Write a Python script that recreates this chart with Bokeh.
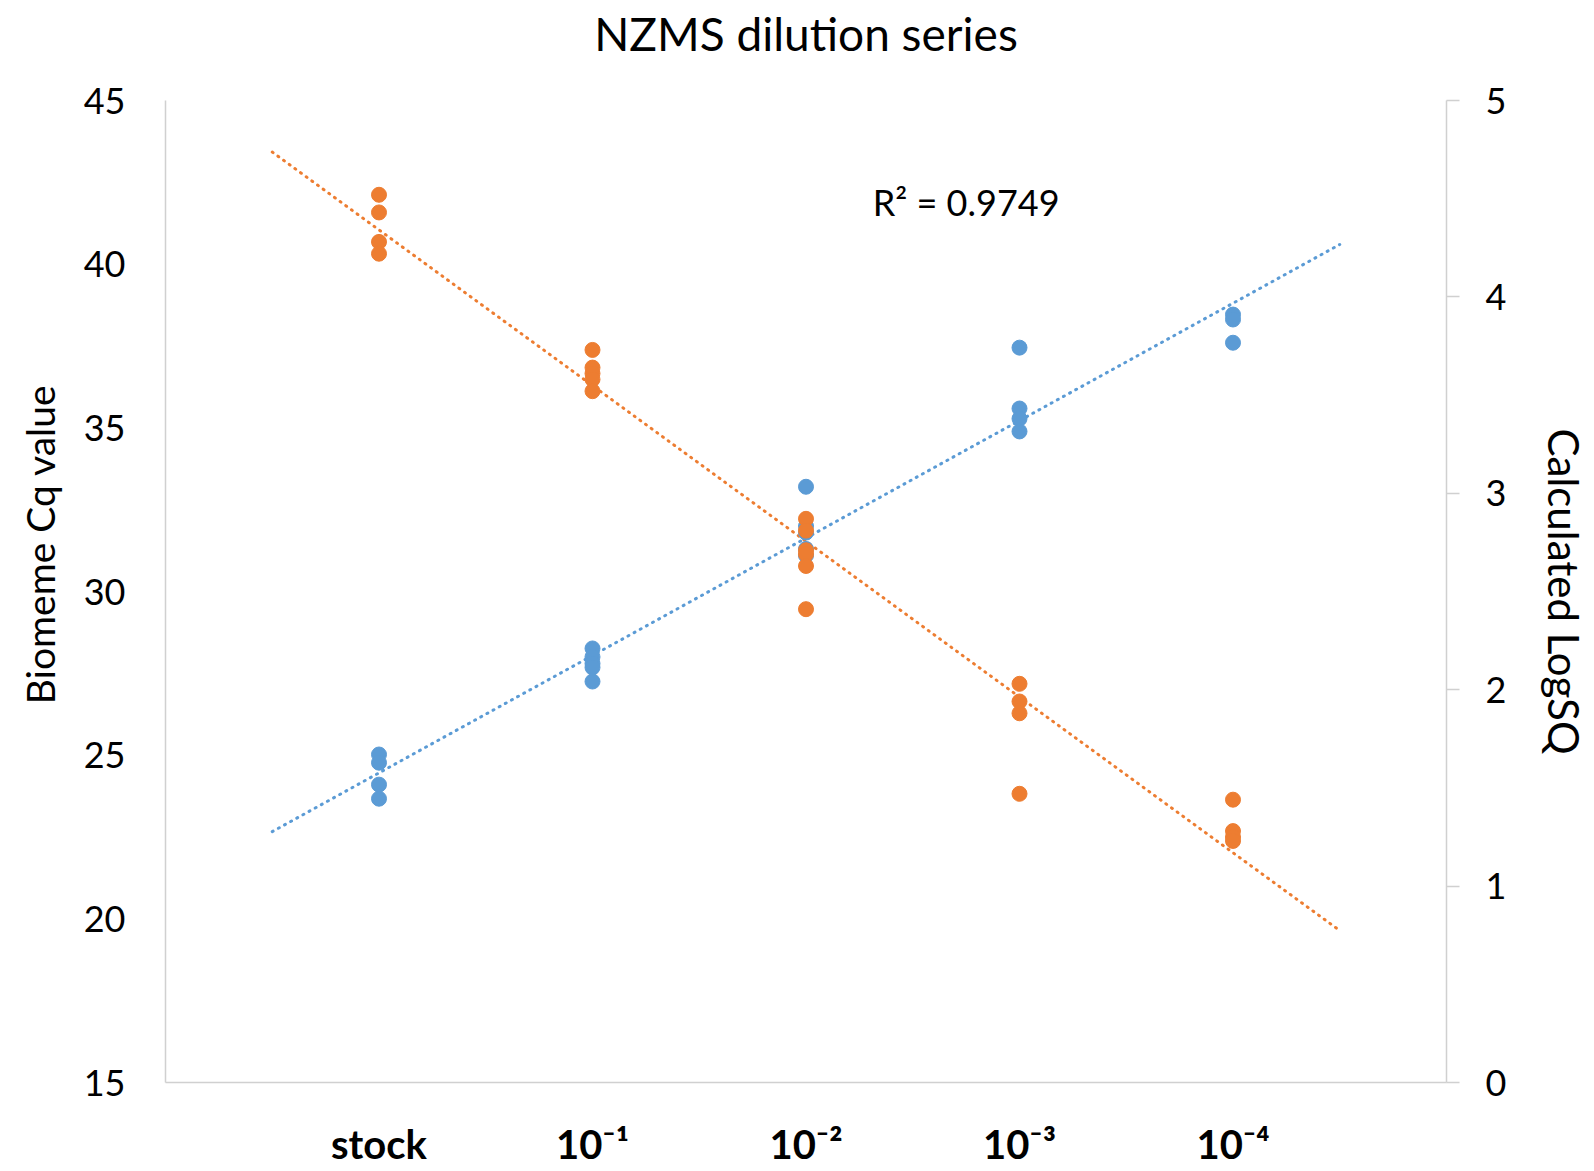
import numpy as np
from bokeh.plotting import figure
from bokeh.models import Range1d, LinearAxis, FixedTicker, Label, Title
from bokeh.embed import file_html
from bokeh.resources import INLINE

# ---- data ----
categories = ["stock", "10⁻¹", "10⁻²", "10⁻³", "10⁻⁴"]

cq_stock = [25.02, 24.77, 24.10, 23.67]
cq_d1 = [28.26, 28.00, 27.80, 27.68, 27.25]
cq_d2 = [33.20, 32.00, 31.80, 31.30, 31.10]
cq_d3 = [37.45, 35.59, 35.28, 34.89]
cq_d4 = [38.46, 38.31, 37.60]

logsq_stock = [4.52, 4.43, 4.28, 4.22]
logsq_d1 = [3.73, 3.64, 3.61, 3.58, 3.52]
logsq_d2 = [2.87, 2.81, 2.71, 2.69, 2.63, 2.41]
logsq_d3 = [2.03, 1.94, 1.88, 1.47]
logsq_d4 = [1.44, 1.28, 1.25, 1.23]

left_ticks = [15, 20, 25, 30, 35, 40, 45]
right_ticks = [0, 1, 2, 3, 4, 5]
r2_text = "R² = 0.9749"
title_text = "NZMS dilution series"
left_label = "Biomeme Cq value"
right_label = "Calculated LogSQ"

BLUE = "#5B9BD5"
ORANGE = "#ED7D31"
FONT = "Lato"
AXIS_GREY = "#D0D0D0"

cq_groups = [cq_stock, cq_d1, cq_d2, cq_d3, cq_d4]
logsq_groups = [logsq_stock, logsq_d1, logsq_d2, logsq_d3, logsq_d4]

cq_x = [i + 1 for i, g in enumerate(cq_groups) for _ in g]
cq_y = [v for g in cq_groups for v in g]
sq_x = [i + 1 for i, g in enumerate(logsq_groups) for _ in g]
sq_y = [v for g in logsq_groups for v in g]

# linear trendlines (extended 0.5 category each side)
tx = np.array([0.5, len(categories) + 0.5])
b_m, b_c = np.polyfit(cq_x, cq_y, 1)
o_m, o_c = np.polyfit(sq_x, sq_y, 1)

p = figure(width=1594, height=1171, output_backend="svg", toolbar_location=None,
           x_range=Range1d(0, len(categories) + 1), y_range=Range1d(15, 45),
           min_border_left=164, min_border_right=148, min_border_top=100,
           min_border_bottom=89)
p.extra_y_ranges = {"logsq": Range1d(0, 5)}

p.xgrid.visible = False
p.ygrid.visible = False
p.outline_line_color = None

# bottom (category) axis
xa = p.below[0]
xa.ticker = FixedTicker(ticks=list(range(1, len(categories) + 1)))
xa.major_label_overrides = {i + 1: c for i, c in enumerate(categories)}
xa.major_label_text_font = FONT
xa.major_label_text_font_size = "40px"
xa.major_label_text_font_style = "bold"
xa.major_label_text_color = "#000000"
xa.major_label_standoff = 37
xa.major_tick_out = 0
xa.major_tick_in = 0
xa.minor_tick_out = 0
xa.minor_tick_in = 0
xa.axis_line_color = AXIS_GREY
xa.axis_line_width = 1.5

# left axis
ya = p.left[0]
ya.ticker = FixedTicker(ticks=left_ticks)
ya.major_label_text_font = FONT
ya.major_label_text_font_size = "36px"
ya.major_label_text_color = "#000000"
ya.major_label_standoff = 40
ya.major_tick_out = 0
ya.major_tick_in = 0
ya.minor_tick_out = 0
ya.minor_tick_in = 0
ya.axis_line_color = AXIS_GREY
ya.axis_line_width = 1.5

# chart title, drawn as the label of an empty top axis
ta = LinearAxis(ticker=FixedTicker(ticks=[]))
ta.axis_line_color = None
ta.major_tick_out = 0
ta.major_tick_in = 0
ta.minor_tick_out = 0
ta.minor_tick_in = 0
ta.axis_label = title_text
ta.axis_label_text_font = FONT
ta.axis_label_text_font_size = "46px"
ta.axis_label_text_font_style = "normal"
ta.axis_label_text_color = "#000000"
ta.axis_label_standoff = 40
p.add_layout(ta, "above")

left_title = Title(text=left_label, align="right", offset=284,
                   vertical_align="top", standoff=32,
                   text_font=FONT, text_font_size="39px",
                   text_font_style="normal", text_color="#000000")
p.add_layout(left_title, "left")

# right axis
ra = LinearAxis(y_range_name="logsq", ticker=FixedTicker(ticks=right_ticks))
ra.major_label_text_font = FONT
ra.major_label_text_font_size = "36px"
ra.major_label_text_color = "#000000"
ra.major_label_standoff = 26
ra.major_tick_out = 13
ra.major_tick_in = 0
ra.minor_tick_out = 0
ra.minor_tick_in = 0
ra.major_tick_line_color = AXIS_GREY
ra.major_tick_line_width = 1.5
ra.axis_line_color = AXIS_GREY
ra.axis_line_width = 1.5
ra.axis_label = right_label
ra.axis_label_text_font = FONT
ra.axis_label_text_font_size = "42px"
ra.axis_label_text_font_style = "normal"
ra.axis_label_text_color = "#000000"
ra.axis_label_standoff = 30
p.add_layout(ra, "right")

# trendlines
p.line(tx, b_m * tx + b_c, line_color=BLUE, line_width=3, line_dash="1 6",
       line_cap="round")
p.line(tx, o_m * tx + o_c, line_color=ORANGE, line_width=3, line_dash="1 6",
       line_cap="round", y_range_name="logsq")

# points
p.scatter(cq_x, cq_y, size=15, fill_color=BLUE, line_color=BLUE)
p.scatter(sq_x, sq_y, size=15, fill_color=ORANGE, line_color=ORANGE,
          y_range_name="logsq")

p.add_layout(Label(x=3.75, y=41.9, text=r2_text, text_align="center",
                   text_baseline="middle", text_font=FONT,
                   text_font_size="36px", text_color="#000000"))

open("out.html", "w").write(file_html(p, INLINE))
